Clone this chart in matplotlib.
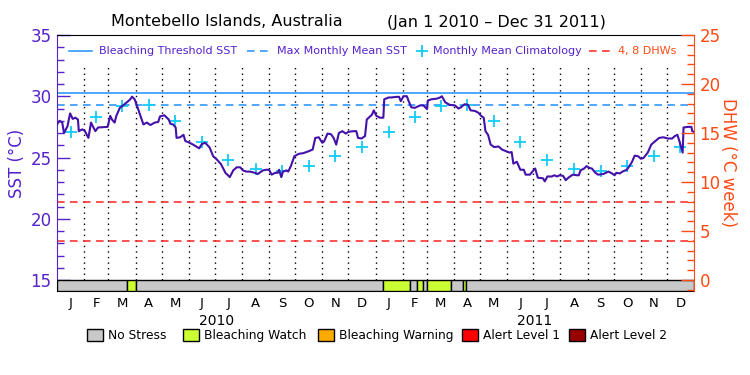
import datetime as dt
import matplotlib
matplotlib.use('Agg')
import matplotlib.pyplot as plt
from matplotlib.lines import Line2D
from matplotlib.patches import Rectangle
from matplotlib.ticker import MultipleLocator

# SST (deg C), days since Jan 1 2010
sst_day = [0, 3, 6, 8, 12, 15, 18, 21, 24, 25, 29, 32, 36, 39, 41, 44, 47, 58, 61, 63,
           66, 68, 72, 80, 84, 86, 89, 93, 99, 103, 107, 112, 116, 118, 123, 128, 130, 133,
           136, 137, 141, 145, 147, 152, 156, 163, 166, 170, 175, 179, 183, 188, 193, 198,
           202, 206, 210, 213, 217, 221, 227, 230, 233, 236, 240, 243, 246, 250, 253, 254.5,
           257, 259, 263, 265, 268, 272, 277, 282, 288, 293, 296, 300, 304, 306, 310, 314,
           317, 320, 323, 327, 331, 334, 340, 343, 345, 349, 353, 355, 358, 361, 363, 366,
           370, 374, 375, 380, 383, 389, 392, 394, 397, 401, 403, 406, 410, 416, 420, 424,
           425, 429, 435, 439, 441, 445, 450, 456, 460, 463, 467, 471, 474, 479, 483, 486,
           489, 491, 494, 497, 501, 506, 510, 515, 519, 521, 523, 527, 531, 535, 537, 542,
           546, 548, 551, 557, 559, 562, 567, 570, 573, 576, 580, 583, 586, 591, 596, 598,
           600, 604, 607, 610, 613, 617, 620, 626, 632, 636, 639, 641, 645, 648, 653, 656,
           659, 662, 666, 669, 672, 677, 681, 685, 690, 695, 700, 705, 708, 711, 713, 715,
           717, 718, 723, 727, 728, 730]
sst_val = [27.7, 28.0, 27.85, 27.0, 27.55, 28.6, 28.15, 28.25, 28.1, 27.15, 27.3, 27.15, 26.6,
           27.85, 27.55, 27.15, 27.45, 27.5, 28.4, 28.1, 27.85, 28.4, 29.05, 29.5, 29.75, 29.97,
           29.75, 28.95, 27.7, 27.85, 27.65, 27.85, 27.9, 28.35, 28.45, 28.1, 27.75, 27.7, 27.45,
           26.6, 26.65, 26.85, 26.35, 26.2, 26.05, 25.75, 26.1, 26.2, 25.8, 25.1, 24.85, 24.45,
           23.75, 23.4, 23.95, 24.2, 24.2, 23.95, 23.85, 23.85, 23.75, 23.65, 23.8, 23.95, 24.0,
           24.0, 23.6, 23.75, 23.75, 24.0, 23.4, 23.85, 23.95, 23.85, 24.3, 25.1, 25.3, 25.35,
           25.5, 25.65, 26.6, 26.65, 26.2, 26.3, 26.95, 26.9, 26.6, 26.05, 27.0, 27.15, 26.95,
           27.1, 27.15, 27.15, 26.6, 26.55, 26.75, 28.1, 28.3, 28.5, 28.85, 28.4, 28.25, 28.25,
           29.75, 29.9, 29.9, 29.95, 29.95, 29.6, 30.0, 30.0, 29.6, 29.1, 29.05, 29.25, 29.25,
           28.95, 29.65, 29.75, 29.8, 29.9, 30.0, 29.5, 29.3, 29.25, 29.0, 29.1, 29.35, 29.3,
           28.85, 28.8, 28.65, 28.4, 28.25, 27.15, 26.85, 26.05, 25.85, 25.9, 25.65, 25.5, 25.4,
           25.45, 24.5, 24.65, 24.0, 24.0, 23.6, 23.6, 23.95, 24.1, 23.35, 23.3, 23.05, 23.45,
           23.45, 23.55, 23.45, 23.55, 23.5, 23.15, 23.35, 23.6, 23.55, 23.55, 23.95, 24.1, 24.3,
           24.15, 24.1, 23.75, 23.6, 23.65, 23.85, 23.7, 23.55, 23.75, 23.7, 23.85, 24.0, 24.3,
           24.65, 25.15, 25.1, 24.9, 24.95, 25.4, 26.05, 26.3, 26.6, 26.65, 26.55, 26.55, 26.75,
           26.85, 26.4, 25.9, 25.4, 27.45, 27.5, 27.5, 27.15, 27.1]

# monthly mean climatology (same for both years)
clim = [27.1, 28.33, 29.2, 29.29, 27.98, 26.29, 24.78, 24.07, 23.93, 24.32, 25.14, 25.88]
mmm = 29.3
threshold = mmm + 1.0
dhw_lines = [4, 8]

# stress level bar: start day, end day, level (0 no stress, 1 watch)
stress_start = [0, 80, 90, 374, 405, 413, 419, 424, 452, 465.5, 468.5]
stress_end = [80, 90, 374, 405, 413, 419, 424, 452, 465.5, 468.5, 730]
stress_level = [0, 1, 0, 1, 0, 1, 0, 1, 0, 1, 0]

stress_names = ['No Stress', 'Bleaching Watch', 'Bleaching Warning', 'Alert Level 1', 'Alert Level 2']
stress_colors = ['#c8c8c8', '#ccff33', '#ffaa00', '#ff0000', '#990000']
month_letters = ['J', 'F', 'M', 'A', 'M', 'J', 'J', 'A', 'S', 'O', 'N', 'D']
years = [2010, 2011]

purple = '#5522cc'
line_col = '#4411aa'
blue = '#1e90ff'
cyan = '#11ccf8'
red = '#ff2222'
orange = '#ff4a14'

W, H = 750, 375
start = dt.date(2010, 1, 1)

# month starts and middles in days
m_start, m_mid = [], []
for y in years:
    for m in range(1, 13):
        d0 = dt.date(y, m, 1)
        d1 = dt.date(y + (m == 12), m % 12 + 1, 1)
        m_start.append((d0 - start).days)
        m_mid.append((d0 - start).days + (d1 - d0).days / 2.0)
clim_day = m_mid
clim_val = clim * len(years)

fig = plt.figure(figsize=(7.5, 3.75), dpi=100)
ylo = 15 - 11 / 12.25
ax = fig.add_axes([57 / W, 1 - 291 / H, 637 / W, 256 / H])
ax.set_xlim(0, 730)
ax.set_ylim(ylo, 35)

# month separators
ax.vlines(m_start[1:], 15, 32.6, colors='black', linestyles=(0, (1, 3)), lw=1.0, zorder=1)

ax.axhline(threshold, color=blue, lw=1.1, zorder=2)
ax.axhline(mmm, color=blue, lw=1.1, ls=(0, (5, 3.5)), zorder=2)
for d in dhw_lines:
    ax.axhline(15 + d / 1.25, color=red, lw=1.1, ls=(0, (5, 3.5)), zorder=2)

ax.plot(clim_day, clim_val, ls='none', marker='+', ms=9, mew=1.3, color=cyan, zorder=3)
ax.plot(sst_day, sst_val, color=line_col, lw=1.5, zorder=4)

# stress bar
widths = [e - s for s, e in zip(stress_start, stress_end)]
ax.bar(stress_start, 15 - ylo, width=widths, bottom=ylo, align='edge',
       color=[stress_colors[l] for l in stress_level], edgecolor='black', lw=1.0, zorder=5)

# axes styling
ax.spines['left'].set_color(purple)
ax.spines['right'].set_visible(False)
ax.spines['top'].set_color('black')
ax.spines['bottom'].set_color('black')
ax.set_yticks([15, 20, 25, 30, 35])
ax.yaxis.set_minor_locator(MultipleLocator(1))
ax.tick_params(axis='y', which='major', direction='in', length=9.5, width=1, color=purple,
               labelcolor=purple, labelsize=12, pad=4)
ax.tick_params(axis='y', which='minor', direction='in', length=5, width=1, color=purple)
ax.set_xticks(m_mid)
ax.set_xticklabels(month_letters * len(years))
ax.tick_params(axis='x', length=0, labelsize=9.5, pad=4)
ax.set_ylabel('SST (°C)', color=purple, fontsize=12, labelpad=3)

ax2 = ax.twinx()
ax2.set_ylim((ylo - 15) * 1.25, 25)
ax2.spines['right'].set_color(orange)
ax2.spines['left'].set_visible(False)
ax2.spines['top'].set_visible(False)
ax2.spines['bottom'].set_visible(False)
ax2.set_yticks([0, 5, 10, 15, 20, 25])
ax2.yaxis.set_minor_locator(MultipleLocator(1))
ax2.tick_params(axis='y', which='major', direction='in', length=9.5, width=1, color=orange,
                labelcolor=orange, labelsize=12, pad=4)
ax2.tick_params(axis='y', which='minor', direction='in', length=5, width=1, color=orange)
ax2.set_ylabel('DHW (°C week)', color=orange, fontsize=12, rotation=-90, labelpad=12)

for i, y in enumerate(years):
    ax.text(182.5 + 365 * i, -0.118, str(y), transform=ax.get_xaxis_transform(),
            ha='center', va='center', fontsize=10)

# title
fig.text(111 / W, 1 - 22 / H, 'Montebello Islands, Australia', ha='left', va='center', fontsize=11.5)
fig.text(387 / W, 1 - 22 / H, '(Jan 1 2010 \u2013 Dec 31 2011)', ha='left', va='center', fontsize=11.5)

# top legend (inside plot)
ly = 1 - 51 / H
fig.add_artist(Line2D([69 / W, 92 / W], [ly, ly], color=blue, lw=1.1))
fig.text(98.7 / W, ly, 'Bleaching Threshold SST', color=purple, fontsize=8, va='center')
fig.add_artist(Line2D([247 / W, 270 / W], [ly, ly], color=blue, lw=1.1, ls=(0, (5, 3.5))))
fig.text(276.7 / W, ly, 'Max Monthly Mean SST', color=purple, fontsize=8, va='center')
fig.add_artist(Line2D([421.7 / W], [ly], color=cyan, marker='+', ms=9, mew=1.3, ls='none'))
fig.text(433 / W, ly, 'Monthly Mean Climatology', color=purple, fontsize=8, va='center')
fig.add_artist(Line2D([589 / W, 615 / W], [ly, ly], color=red, lw=1.1, ls=(0, (5, 3.5))))
fig.text(618 / W, ly, '4, 8 DHWs', color=orange, fontsize=8, va='center')

# bottom legend
box_x = [87.3, 183.3, 317.7, 461.7, 569.3]
for bx, name, col in zip(box_x, stress_names, stress_colors):
    fig.add_artist(Rectangle((bx / W, 1 - 340.7 / H), 16 / W, 11.4 / H, facecolor=col,
                             edgecolor='black', lw=1.0, transform=fig.transFigure))
    fig.text((bx + 21) / W, 1 - 335.5 / H, name, fontsize=8.8, va='center')

fig.savefig('out.png', dpi=100)
